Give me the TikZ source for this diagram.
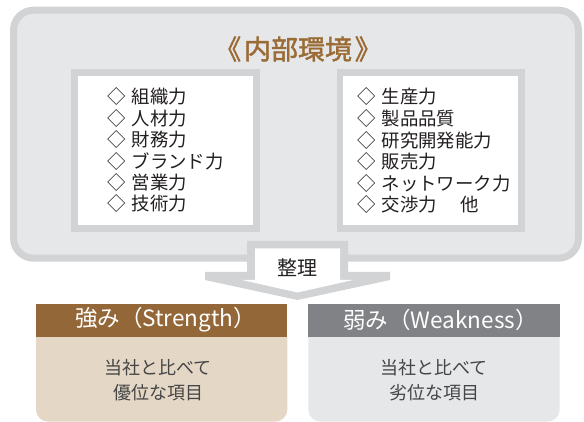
\documentclass[tikz,border=0pt]{standalone}
\usepackage{fontspec}
\setmainfont{Noto Sans CJK JP}
\newfontfamily\titlefont[FakeBold=1.5]{Noto Sans CJK JP}
\definecolor{boxgray}{HTML}{D1D3D4}
\definecolor{fillgray}{HTML}{E6E7E8}
\definecolor{titlebrown}{HTML}{9A6B35}
\definecolor{headbrown}{HTML}{946738}
\definecolor{beige}{HTML}{E4D7C6}
\definecolor{headgray}{HTML}{808285}
\definecolor{textdark}{HTML}{231F20}
\definecolor{bodytext}{HTML}{454545}
\tikzset{
  outerbox/.style={line width=7pt, draw=boxgray, fill=fillgray, rounded corners=20pt},
  inbox/.style={draw=boxgray, line width=6.7pt, fill=white, minimum height=155.6pt, inner sep=0pt},
  item/.style={anchor=west, inner sep=0pt, font=\fontsize{18.4}{18.4}\selectfont, text=textdark},
  titletext/.style={inner sep=0pt, font=\fontsize{27}{27}\titlefont, text=titlebrown},
  arrowtext/.style={inner sep=0pt, font=\fontsize{20}{20}\selectfont, text=textdark},
  headtext/.style={inner sep=0pt, font=\fontsize{22.5}{22.5}\selectfont, text=white},
  bodytxt/.style={inner sep=0pt, align=center, font=\fontsize{18}{25}\selectfont, text=bodytext}
}
\begin{document}
\begin{tikzpicture}[x=1pt,y=-1pt]
\useasboundingbox (0,0) rectangle (584,422);
% outer box
\draw[outerbox] (13.5,10.2) rectangle (578.5,258.2);
\node[titletext] (title) at (298,49) {《\hspace{0.1em}内部環境\hspace{0.1em}》};
% inner boxes
\node[inbox, minimum width=182.4pt] (lbox) at (165.5,150.5) {};
\node[inbox, minimum width=181.7pt] (rbox) at (430.85,150.5) {};
% left items
\foreach \n/\t [count=\i from 0] in {l1/組織力, l2/人材力, l3/財務力, l4/ブランド力, l5/営業力, l6/技術力}
  \node[item] (\n) at (107,97+21.4*\i) {◇\hspace{0.33em}\t};
% right items
\foreach \n/\t [count=\i from 0] in {r1/生産力, r2/製品品質, r3/研究開発能力, r4/販売力, r5/ネットワーク力, r6/交渉力\hspace{1.3em}他}
  \node[item] (\n) at (357,97+21.6*\i) {◇\hspace{0.33em}\t};
% arrow
\fill[boxgray] (247,241) -- (348,241) -- (348,272) -- (390,272) -- (390,280) -- (297.5,300) -- (205,280) -- (205,272) -- (247,272) -- cycle;
\fill[white] (255,248.5) -- (340,248.5) -- (340,280) -- (353,280) -- (297.5,292.5) -- (242,280) -- (255,280) -- cycle;
\node[arrowtext] (seiri) at (297,268) {整理};
% strength
\fill[beige, rounded corners=12pt] (36,325) rectangle (287.3,421.6);
\fill[headbrown] (36,304) rectangle (287.3,336.7);
\node[headtext] (shead) at (165.5,320) {強み（Strength）};
\node[bodytxt] (sbody) at (158,380) {当社と比べて\\優位な項目};
% weakness
\fill[fillgray, rounded corners=12pt] (308.3,325) rectangle (559.7,421.6);
\fill[headgray] (308.3,304) rectangle (559.7,336.7);
\node[headtext] (whead) at (440.5,320) {弱み（Weakness）};
\node[bodytxt] (wbody) at (434,380) {当社と比べて\\劣位な項目};
\end{tikzpicture}
\end{document}
